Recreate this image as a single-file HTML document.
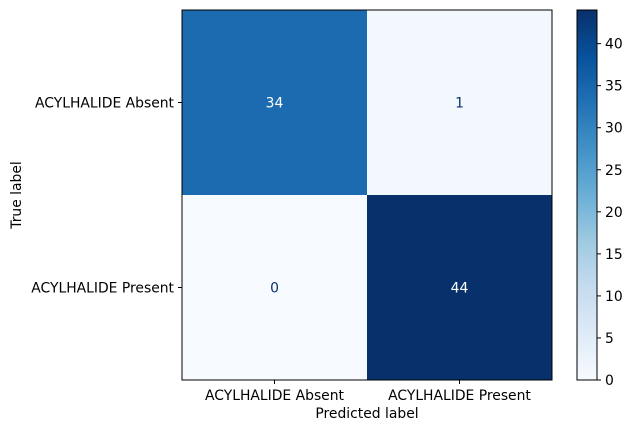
<!DOCTYPE html>
<html><head><meta charset="utf-8"><style>body{margin:0;background:#fff}svg{font-family:"DejaVu Sans","Liberation Sans",sans-serif}</style></head>
<body>
<svg id="chart" width="632" height="432" viewBox="0 0 632 432">
<defs><linearGradient id="blues" x1="0" y1="1" x2="0" y2="0">
<stop offset="0" stop-color="#f7fbff"/><stop offset="0.125" stop-color="#deebf7"/><stop offset="0.25" stop-color="#c6dbef"/><stop offset="0.375" stop-color="#9ecae1"/><stop offset="0.5" stop-color="#6baed6"/><stop offset="0.625" stop-color="#4292c6"/><stop offset="0.75" stop-color="#2171b5"/><stop offset="0.875" stop-color="#08519c"/><stop offset="1" stop-color="#08306b"/></linearGradient></defs>
</svg>
<script>
const labels = ["ACYLHALIDE Absent", "ACYLHALIDE Present"];
const matrix = [[34, 1], [0, 44]];
const cbTicks = [0, 5, 10, 15, 20, 25, 30, 35, 40];
const svg = document.getElementById('chart');
const NS = 'http://www.w3.org/2000/svg';
const X0 = 182, Y0 = 10, SIZE = 370, FS = '13.9';
const n = labels.length, cell = SIZE / n;
const vmin = Math.min(...matrix.flat()), vmax = Math.max(...matrix.flat());
const stops = ['#f7fbff','#deebf7','#c6dbef','#9ecae1','#6baed6','#4292c6','#2171b5','#08519c','#08306b'];
function hex(c){return [1,3,5].map(i=>parseInt(c.substr(i,2),16));}
function color(v){let t=(v-vmin)/(vmax-vmin||1)*(stops.length-1);let i=Math.min(Math.floor(t),stops.length-2),f=t-i;
 const a=hex(stops[i]),b=hex(stops[i+1]);return 'rgb('+a.map((x,k)=>Math.round(x+(b[k]-x)*f)).join(',')+')';}
function el(tag, attrs, text){const e=document.createElementNS(NS,tag);for(const k in attrs)e.setAttribute(k,attrs[k]);if(text!==undefined)e.textContent=text;svg.appendChild(e);return e;}
const xs = i => X0 + i*cell, ys = i => Y0 + i*cell;
for(let r=0;r<n;r++)for(let c=0;c<n;c++){
 const v=matrix[r][c];
 const rect=el('rect',{x:xs(c),y:ys(r),width:cell,height:cell,fill:color(v)});
 
 
 const t=el('text',{x:xs(c)+cell/2,y:ys(r)+cell/2+5,'text-anchor':'middle','font-size':FS,fill:v>(vmin+vmax)/2?'#ffffff':'#08306b'},String(v));
 
 
}
const frame=el('rect',{x:X0,y:Y0,width:SIZE,height:SIZE,fill:'none',stroke:'#000','stroke-width':1});


for(let i=0;i<n;i++){
 const cx=xs(i)+cell/2, cy=ys(i)+cell/2;
 el('line',{x1:cx,y1:Y0+SIZE,x2:cx,y2:Y0+SIZE+4,stroke:'#000'});
 const xl=el('text',{x:cx,y:Y0+SIZE+20,'text-anchor':'middle','font-size':FS},labels[i]);
 
 
 el('line',{x1:X0-4,y1:cy,x2:X0,y2:cy,stroke:'#000'});
 const yl=el('text',{x:X0-8,y:cy+5,'text-anchor':'end','font-size':FS},labels[i]);
 
 
}
const xt=el('text',{x:X0+SIZE/2,y:418,'text-anchor':'middle','font-size':FS},'Predicted label');


const yt=el('text',{x:0,y:0,'text-anchor':'middle','font-size':FS,transform:'translate(21,'+(Y0+SIZE/2)+') rotate(-90)'},'True label');


const CBX=577, CBW=20;
const cb=el('rect',{x:CBX,y:Y0,width:CBW,height:SIZE,fill:'url(#blues)',stroke:'#000','stroke-width':1});


const cy = v => Y0 + SIZE - (v-vmin)/(vmax-vmin)*SIZE;
cbTicks.forEach(v=>{
 el('line',{x1:CBX+CBW,y1:cy(v),x2:CBX+CBW+4,y2:cy(v),stroke:'#000'});
 const t=el('text',{x:CBX+CBW+8,y:cy(v)+5,'font-size':FS},String(v));
 
 
});
</script>
</body></html>
